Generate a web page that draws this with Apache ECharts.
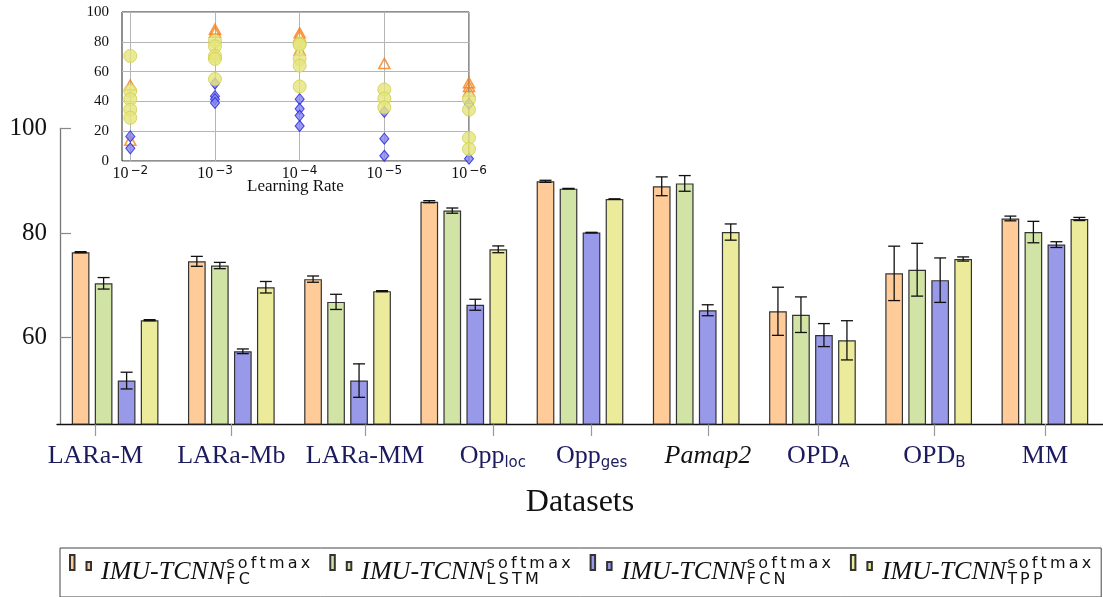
<!DOCTYPE html>
<html>
<head>
<meta charset="utf-8">
<script src="https://cdn.jsdelivr.net/npm/echarts@6/dist/echarts.min.js"></script>
<style>
    html, body { margin: 0; padding: 0; background: #fff; }
    #chart { width: 1103px; height: 597px; }
</style>
</head>
<body>
<div id="chart"></div>
<script>
// Datasets on the main bar chart
const datasets = ['LARa-M', 'LARa-Mb', 'LARa-MM', 'Opp_loc', 'Opp_ges', 'Pamap2', 'OPD_A', 'OPD_B', 'MM'];
const methods = ['FC', 'LSTM', 'FCN', 'TPP'];

// Mean accuracy and error per method
const accFC   = [76.35, 74.6, 71.2, 86.0, 89.9, 88.95, 65.05, 72.3, 82.8];
const errFC   = [0.1, 0.95, 0.6, 0.2, 0.2, 1.8, 4.6, 5.2, 0.45];
const accLSTM = [70.4, 73.8, 66.85, 84.3, 88.5, 89.5, 64.4, 73.0, 80.2];
const errLSTM = [1.1, 0.6, 1.45, 0.5, 0.05, 1.5, 3.4, 5.05, 2.05];
const accFCN  = [51.8, 57.4, 51.8, 66.3, 80.1, 65.25, 60.5, 71.0, 77.8];
const errFCN  = [1.6, 0.45, 3.2, 1.05, 0.05, 1.05, 2.2, 4.25, 0.55];
const accTPP  = [63.35, 69.65, 68.9, 76.9, 86.5, 80.2, 59.5, 75.05, 82.7];
const errTPP  = [0.1, 1.1, 0.1, 0.65, 0.05, 1.55, 3.75, 0.4, 0.3];

// Inset: learning rate exponents and the points at each rate
const lrExp = [-2, -3, -4, -5, -6];
const triVals = [[51, 14], [88.5, 86.5, 72], [86, 84, 74.5], [65.5], [52.5, 50, 47]];
const diaVals = [[16.5, 8.5], [52, 43.5, 41.5, 39], [41.5, 35, 30.5, 23.5], [33, 15, 3.5], [38.5, 1.5]];
const cirVals = [[70.5, 47, 41.5, 34.5, 29], [80.5, 77, 70.5, 68.5, 55], [79, 78, 68.5, 64, 50], [48, 42, 36], [41.5, 34.5, 15.5, 8]];

const means = [accFC, accLSTM, accFCN, accTPP];
const errs = [errFC, errLSTM, errFCN, errTPP];
const colors = ['#ffcc99', '#d1e3a5', '#9999ea', '#ebeb9b'];

// layout
const BAR_W = 17.7;
const BAR_GAP = 5.3;
const CAP = 6;
const labelPos = [0.33, 1.5, 2.65, 3.75, 4.6, 5.6, 6.55, 7.55, 8.5];
const NAVY = '#1b1b5e';
const SERIF = 'Liberation Serif';
const THIN = '\u2009';

function points(vals) {
    const out = [];
    vals.forEach((list, i) => list.forEach(v => out.push([i, v])));
    return out;
}

function datasetLabel(name) {
    if (name === 'Pamap2') return '{i|' + name + '}';
    if (name.indexOf('_') > 0) {
        const [base, sub] = name.split('_');
        return '{n|' + base + '}{s|' + sub + '}';
    }
    return '{n|' + name + '}';
}

function errorBars(k) {
    return function (params, api) {
        const i = api.value(0);
        const lo = api.coord([i, api.value(1)]);
        const hi = api.coord([i, api.value(2)]);
        const x = lo[0] + (k - 1.5) * (BAR_W + BAR_GAP);
        const style = { stroke: '#111', lineWidth: 1.3 };
        return {
            type: 'group',
            children: [
                { type: 'line', shape: { x1: x, y1: lo[1], x2: x, y2: hi[1] }, style },
                { type: 'line', shape: { x1: x - CAP, y1: lo[1], x2: x + CAP, y2: lo[1] }, style },
                { type: 'line', shape: { x1: x - CAP, y1: hi[1], x2: x + CAP, y2: hi[1] }, style }
            ]
        };
    };
}

const barSeries = methods.map((m, k) => ({
    name: m,
    type: 'bar',
    xAxisIndex: 0,
    yAxisIndex: 0,
    data: means[k],
    barWidth: BAR_W,
    barGap: (BAR_GAP / BAR_W * 100) + '%',
    itemStyle: { color: colors[k], borderColor: '#333', borderWidth: 1.2 },
    z: 2
}));

const errSeries = methods.map((m, k) => ({
    type: 'custom',
    xAxisIndex: 0,
    yAxisIndex: 0,
    data: means[k].map((v, i) => [i, v - errs[k][i], v + errs[k][i]]),
    encode: { x: 0, y: [1, 2] },
    renderItem: errorBars(k),
    z: 5
}));

const scatterSeries = [
    {
        type: 'scatter', xAxisIndex: 2, yAxisIndex: 1, clip: false,
        data: points(triVals), symbol: 'triangle', symbolSize: [11, 10],
        itemStyle: { color: 'rgba(0,0,0,0)', borderColor: '#f77f16', borderWidth: 1.6 },
        z: 3
    },
    {
        type: 'scatter', xAxisIndex: 2, yAxisIndex: 1, clip: false,
        data: points(diaVals), symbol: 'diamond', symbolSize: [9, 11],
        itemStyle: { color: '#8686ee', borderColor: '#2424e0', borderWidth: 1.1 },
        z: 4
    },
    {
        type: 'scatter', xAxisIndex: 2, yAxisIndex: 1, clip: false,
        data: points(cirVals), symbol: 'circle', symbolSize: 13,
        itemStyle: { color: '#e5e57c', borderColor: '#cfcf4c', borderWidth: 1 },
        z: 5
    }
];

const chart = echarts.init(document.getElementById('chart'));

chart.setOption({
    animation: false,
    backgroundColor: '#fff',
    grid: [
        { left: 57, top: 128.5, width: 1051, bottom: 173 },
        { left: 122, top: 12, width: 347, height: 149, show: true, backgroundColor: '#fff', borderColor: '#222', borderWidth: 1 }
    ],
    legend: {
        data: methods,
        left: 60,
        top: 548,
        width: 1043,
        padding: [6, 10, 7, 9],
        itemGap: 19,
        itemWidth: 21,
        itemHeight: 34,
        icon: 'path://M0,0h4.5v15h-4.5z M16.5,7h4.5v8h-4.5z M0,34',
        borderColor: '#444',
        borderWidth: 1,
        selectedMode: false,
        formatter: name => '{m|IMU-TCNN}{b|' + name.split('').join(THIN) + '}{t|' + 'softmax'.split('').join(THIN) + '}',
        textStyle: {
            width: 211,
            padding: [0, 0, 0, 5],
            rich: {
                m: { fontFamily: SERIF, fontStyle: 'italic', fontSize: 26, lineHeight: 32, color: '#111', padding: [0, 1, 0, 0] },
                b: { fontFamily: 'DejaVu Sans', fontSize: 16, lineHeight: 12, width: 0, verticalAlign: 'bottom', color: '#111' },
                t: { fontFamily: 'DejaVu Sans', fontSize: 16, lineHeight: 15, verticalAlign: 'top', color: '#111' }
            }
        }
    },
    xAxis: [
        {
            type: 'category',
            gridIndex: 0,
            data: datasets,
            boundaryGap: true,
            axisLine: { lineStyle: { color: '#111', width: 1.3 } },
            axisTick: { show: false },
            axisLabel: { show: false },
            splitLine: { show: false }
        },
        {
            type: 'value',
            gridIndex: 0,
            position: 'bottom',
            min: 0,
            max: 9,
            axisLine: { show: false },
            axisTick: { show: true, customValues: labelPos, length: 12, lineStyle: { color: '#999', width: 1.2 } },
            axisLabel: {
                customValues: labelPos,
                margin: 17,
                formatter: value => {
                    let best = 0;
                    labelPos.forEach((p, i) => { if (Math.abs(p - value) < Math.abs(labelPos[best] - value)) best = i; });
                    return datasetLabel(datasets[best]);
                },
                rich: {
                    n: { fontFamily: SERIF, fontSize: 26, lineHeight: 30, color: NAVY },
                    i: { fontFamily: SERIF, fontStyle: 'italic', fontSize: 26, lineHeight: 30, color: '#111' },
                    s: { fontFamily: 'DejaVu Sans', fontSize: 15, lineHeight: 17, verticalAlign: 'bottom', color: NAVY }
                }
            },
            splitLine: { show: false },
            name: 'Datasets',
            nameLocation: 'middle',
            nameGap: 63,
            nameMoveOverlap: false,
            nameTextStyle: { fontFamily: SERIF, fontSize: 32, color: '#111' }
        },
        {
            type: 'value',
            gridIndex: 1,
            min: -0.098,
            max: 4,
            axisLine: { show: false },
            axisTick: { show: false, customValues: [0, 1, 2, 3, 4] },
            axisLabel: {
                customValues: [0, 1, 2, 3, 4],
                margin: 4,
                formatter: v => '{b|10}{s|\u2212' + (-lrExp[Math.round(v)]) + '}',
                rich: {
                    b: { fontFamily: SERIF, fontSize: 16, lineHeight: 18, color: '#111' },
                    s: { fontFamily: 'DejaVu Sans', fontSize: 12, lineHeight: 12, verticalAlign: 'top', color: '#111', padding: [0, 0, 0, 2] }
                }
            },
            splitLine: { show: true, lineStyle: { color: '#b5b5b5', width: 1 } },
            name: 'Learning Rate',
            nameLocation: 'middle',
            nameGap: 17,
            nameMoveOverlap: false,
            nameTextStyle: { fontFamily: SERIF, fontSize: 17, color: '#111' }
        }
    ],
    yAxis: [
        {
            type: 'value',
            gridIndex: 0,
            min: 43.5,
            max: 100,
            offset: -3,
            axisLine: { show: true, lineStyle: { color: '#777', width: 1.3 } },
            axisTick: { show: true, inside: true, length: 11, customValues: [60, 80, 100], lineStyle: { color: '#888', width: 1.2 } },
            axisLabel: { customValues: [60, 80, 100], margin: 13, fontSize: 25, fontFamily: SERIF, color: '#111' },
            splitLine: { show: false }
        },
        {
            type: 'value',
            gridIndex: 1,
            min: 0,
            max: 100,
            interval: 20,
            axisLine: { show: false },
            axisTick: { show: false },
            axisLabel: { margin: 13, fontSize: 15, fontFamily: SERIF, color: '#111' },
            splitLine: { show: true, lineStyle: { color: '#b5b5b5', width: 1 } }
        }
    ],
    series: [...barSeries, ...errSeries, ...scatterSeries]
});
</script>
</body>
</html>
